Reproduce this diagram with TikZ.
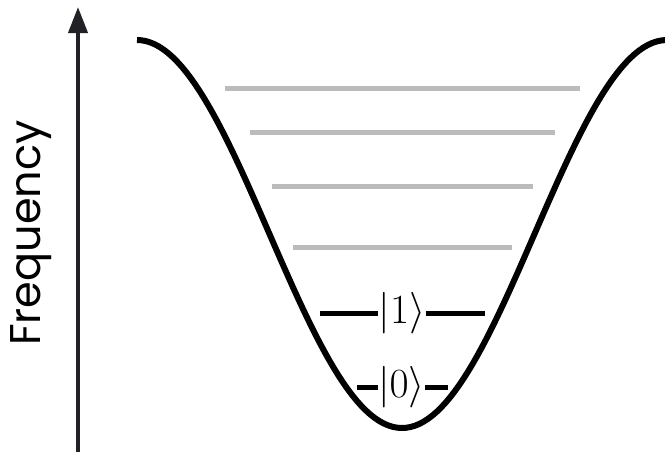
\documentclass[tikz,border=0pt]{standalone}
\usepackage{fontspec}
\usepackage{tikz}
\usepackage{xcolor}
\usetikzlibrary{arrows.meta}
\newfontfamily\freqfont{Poppins}
\definecolor{axisdark}{RGB}{34,34,38}
\definecolor{levelgray}{RGB}{187,187,187}
\tikzset{
  axis/.style={line width=2pt, axisdark, -{Triangle[length=13pt, width=9.5pt]}},
  freq/.style={font=\freqfont\fontsize{21.5pt}{26pt}\selectfont, inner sep=0pt},
  well/.style={line width=3pt, black},
  upper/.style={line width=2.5pt, levelgray},
  level/.style={line width=2.5pt, black},
  ket/.style={font=\fontsize{20pt}{24pt}\selectfont, inner sep=0pt}
}
\begin{document}
\begin{tikzpicture}[x=0.5pt, y=-0.5pt]
    \useasboundingbox (0,0) rectangle (665,452);
    % frequency axis
    \coordinate (axbot) at (78,452);
    \coordinate (axtop) at (78,7);
    \draw[axis] (axbot) -- (axtop);
    \node[freq, rotate=90, anchor=base] (freq) at (40,233) {Frequency};
    % potential well
    \draw[well] plot[domain=137:670, samples=120] (\x, {40+194*(1-cos((\x-137)/265*180))});
    % higher levels
    \foreach \y/\xl/\xr [count=\i] in {88/225/580, 132/250/555, 186/272/533, 247/293/512} {
      \coordinate (gl\i) at (\xl,\y);
      \coordinate (gr\i) at (\xr,\y);
      \draw[upper] (gl\i) -- (gr\i);
    }
    % qubit levels
    \node[ket] (one) at (402,313) {$|1\rangle$};
    \coordinate (onel) at (320,313);
    \coordinate (oner) at (485,313);
    \draw[level] (onel) -- (one.west);
    \draw[level] (one.east) -- (oner);
    \node[ket] (zero) at (401.5,387) {$|0\rangle$};
    \coordinate (zerol) at (357,387);
    \coordinate (zeror) at (448,387);
    \draw[level] (zerol) -- (zero.west);
    \draw[level] (zero.east) -- (zeror);
\end{tikzpicture}
\end{document}
